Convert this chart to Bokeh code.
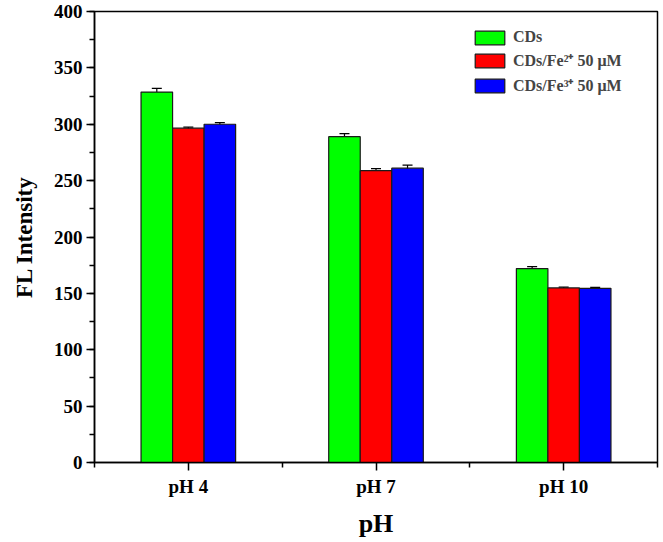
from bokeh.plotting import figure
from bokeh.models import (ColumnDataSource, Range1d, FixedTicker, SingleIntervalTicker,
                          Whisker, TeeHead, Legend, LegendItem)
from bokeh.embed import file_html
from bokeh.resources import INLINE

categories = ["pH 4", "pH 7", "pH 10"]
series_names = ["CDs", "CDs/Fe²⁺ 50 μM", "CDs/Fe³⁺ 50 μM"]
cds = [328.5, 289.0, 172.0]
cds_err = [3.4, 2.6, 1.8]
fe2 = [296.5, 258.8, 154.8]
fe2_err = [1.0, 1.8, 0.8]
fe3 = [300.0, 261.0, 154.5]
fe3_err = [1.5, 2.8, 0.8]
colors = ["#00ff00", "#ff0000", "#0000ff"]

values = [cds, fe2, fe3]
errors = [cds_err, fe2_err, fe3_err]

FONT = "Liberation Serif"
BAR_W = 0.168
offsets = [-BAR_W, 0.0, BAR_W]
pos = [i + 1 for i in range(len(categories))]

p = figure(width=660, height=540, output_backend="svg", toolbar_location=None,
           x_range=Range1d(0.5, 3.5), y_range=Range1d(0, 400),
           min_border_left=94, min_border_top=11, min_border_right=3, min_border_bottom=10)

p.xgrid.visible = False
p.ygrid.visible = False
p.outline_line_color = "black"
p.outline_line_width = 1.5

items = []
for name, vals, errs, col, off in zip(series_names, values, errors, colors, offsets):
    xs = [x + off for x in pos]
    src = ColumnDataSource(dict(x=xs, top=vals,
                                upper=[v + e for v, e in zip(vals, errs)],
                                lower=[v - e for v, e in zip(vals, errs)]))
    r = p.vbar(x="x", top="top", width=BAR_W, bottom=0, source=src,
               fill_color=col, line_color="#1a1a1a", line_width=1.2)
    w = Whisker(base="x", upper="upper", lower="lower", source=src,
                line_color="black", line_width=1.2,
                upper_head=TeeHead(size=10, line_color="black", line_width=1.2),
                lower_head=TeeHead(size=10, line_color="black", line_width=1.2))
    p.add_layout(w)
    items.append(LegendItem(label=name, renderers=[r]))

legend = Legend(items=items, location=(377, 366), border_line_color=None,
                background_fill_alpha=0, glyph_width=37, glyph_height=17,
                label_height=17, spacing=3, padding=0, margin=0, label_standoff=5,
                label_text_font=FONT, label_text_font_style="bold",
                label_text_font_size="16px")
p.add_layout(legend)

# x axis
p.xaxis.ticker = FixedTicker(ticks=pos, minor_ticks=[0.5 + i for i in range(len(categories) + 1)])
p.xaxis.major_label_overrides = {x: c for x, c in zip(pos, categories)}
p.xaxis.axis_label = "pH"
# y axis
p.yaxis.ticker = SingleIntervalTicker(interval=50, num_minor_ticks=2)
p.yaxis.axis_label = "FL Intensity"

for ax in (p.xaxis[0], p.yaxis[0]):
    ax.axis_line_color = "black"
    ax.axis_line_width = 1.5
    ax.major_tick_line_color = "black"
    ax.major_tick_line_width = 1.5
    ax.minor_tick_line_color = "black"
    ax.minor_tick_line_width = 1.5
    ax.major_tick_in = 0
    ax.major_tick_out = 8
    ax.minor_tick_in = 0
    ax.minor_tick_out = 5
    ax.major_label_text_font = FONT
    ax.major_label_text_font_style = "bold"
    ax.major_label_text_font_size = "19px"
    ax.major_label_text_color = "black"
    ax.axis_label_text_font = FONT
    ax.axis_label_text_font_style = "bold"
    ax.axis_label_text_color = "black"

p.xaxis.major_label_standoff = 5
p.xaxis.axis_label_standoff = 9
p.xaxis.axis_label_text_font_size = "26px"
p.yaxis.major_label_standoff = 4
p.yaxis.axis_label_standoff = 14
p.yaxis.axis_label_text_font_size = "23px"

open("out.html", "w").write(file_html(p, INLINE))
